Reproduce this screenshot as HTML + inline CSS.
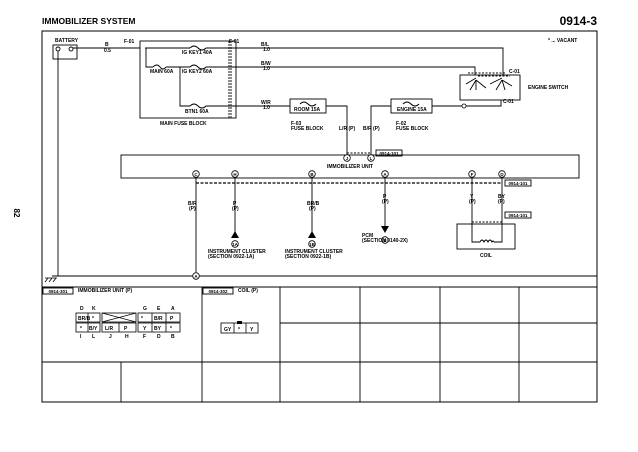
<!DOCTYPE html>
<html><head><meta charset="utf-8"><style>
html,body{margin:0;padding:0;background:#fff;width:638px;height:452px;overflow:hidden}
svg{display:block}
text{font-family:"Liberation Sans",sans-serif;font-weight:bold;fill:#000}
.s{font-size:5px}
.p{font-size:4.5px;text-anchor:middle}
</style></head><body>
<svg width="638" height="452" viewBox="0 0 638 452" xmlns="http://www.w3.org/2000/svg">
<text x="42" y="24" font-size="8.5">IMMOBILIZER SYSTEM</text>
<text x="597" y="25" font-size="12" text-anchor="end">0914-3</text>
<text x="14" y="213" font-size="8" font-weight="normal" transform="rotate(90 14 213)" text-anchor="middle">82</text>
<g fill="none" stroke="#000" stroke-width="0.9">
<rect x="42" y="31" width="555" height="371" stroke-width="1"/>
<rect x="53" y="45" width="24" height="14"/>
<circle cx="58" cy="49" r="2"/><circle cx="71" cy="49" r="2"/>
<line x1="58" y1="51" x2="58" y2="276"/>
<line x1="73" y1="48" x2="140" y2="48"/>
<rect x="140" y="41" width="96" height="77"/>
<line x1="229" y1="41" x2="229" y2="118" stroke-dasharray="2,1"/>
<line x1="231" y1="41" x2="231" y2="118" stroke-dasharray="2,1"/>
<polyline points="145,48 190,48"/><polyline points="206,48 503,48 503,75"/>
<polyline points="146,48 146,67 153,67"/><polyline points="166,67 190,67"/><polyline points="206,67 475,67 475,75"/>
<polyline points="180,67 180,106 190,106"/><polyline points="206,106 290,106"/>
<path d="M190,48 q4,-4 8,0 q4,4 8,0"/><path d="M153,67 q4,-4 7,0 q3,4 6,0"/><path d="M190,67 q4,-4 8,0 q4,4 8,0"/><path d="M190,106 q4,-4 8,0 q4,4 8,0"/>
<rect x="290" y="99" width="36" height="14"/>
<path d="M300,104 q4,-4 8,0 q4,4 8,0"/>
<polyline points="326,106 347,106 347,155"/>
<rect x="391" y="99" width="41" height="14"/>
<path d="M403,104 q4,-4 8,0 q4,4 8,0"/>
<polyline points="391,106 371,106 371,155"/>
<polyline points="432,106 501,106 501,100"/>
<rect x="460" y="75" width="60" height="25"/>
<line x1="468" y1="73" x2="505" y2="73" stroke-dasharray="2,1.5"/>
<line x1="478" y1="76" x2="510" y2="76" stroke-dasharray="2,1.5"/>
<path d="M466,84 l10,-6 M470,90 l6,-10 M476,90 l0,-10 M476,80 l10,8 M490,84 l12,-6 M496,90 l6,-10 M505,90 l-3,-10 M502,80 l10,6"/>
<rect x="121" y="155" width="458" height="23"/>
<line x1="347" y1="153" x2="371" y2="153" stroke-dasharray="2,1.5"/>
<line x1="196" y1="183" x2="502" y2="183" stroke-dasharray="3,1.5" stroke-width="1.3"/>
<line x1="196" y1="178" x2="196" y2="272"/>
<line x1="235" y1="178" x2="235" y2="232"/>
<line x1="312" y1="178" x2="312" y2="232"/>
<line x1="385" y1="178" x2="385" y2="226"/>
<polyline points="472,178 472,242 480,242"/><polyline points="494,242 502,242 502,178"/>
<path d="M480,242 q2,-4 4,0 q2,-4 4,0 q2,-4 4,0 q1,-2 2,0"/>
<line x1="472" y1="222" x2="502" y2="222" stroke-dasharray="2,1.5"/>
<rect x="457" y="224" width="58" height="25"/>
<line x1="52" y1="276" x2="597" y2="276"/>
<line x1="42" y1="287" x2="597" y2="287"/>
<line x1="42" y1="362" x2="597" y2="362"/>
<line x1="280" y1="323" x2="597" y2="323"/>
<line x1="121" y1="362" x2="121" y2="402"/>
<line x1="202" y1="287" x2="202" y2="402"/>
<line x1="280" y1="287" x2="280" y2="402"/>
<line x1="360" y1="287" x2="360" y2="402"/>
<line x1="440" y1="287" x2="440" y2="402"/>
<line x1="519" y1="287" x2="519" y2="402"/>
<rect x="43" y="288" width="30" height="6"/><rect x="203" y="288" width="30" height="6"/>
<rect x="376" y="150" width="26" height="6"/><rect x="505" y="180" width="26" height="6"/><rect x="505" y="212" width="26" height="6"/>
<g stroke-width="0.8">
<rect x="76" y="313" width="24" height="9"/><line x1="88" y1="313" x2="88" y2="322"/>
<rect x="76" y="323" width="24" height="9"/><line x1="88" y1="323" x2="88" y2="332"/>
<rect x="102" y="313" width="34" height="9"/><path d="M102,313 l34,9 M102,322 l34,-9"/>
<rect x="102" y="323" width="34" height="9"/><line x1="119" y1="323" x2="119" y2="332"/>
<rect x="138" y="313" width="42" height="9"/><line x1="152" y1="313" x2="152" y2="322"/><line x1="166" y1="313" x2="166" y2="322"/>
<rect x="138" y="323" width="42" height="9"/><line x1="152" y1="323" x2="152" y2="332"/><line x1="166" y1="323" x2="166" y2="332"/>
<rect x="221" y="323" width="37" height="10"/><line x1="234" y1="323" x2="234" y2="333"/><line x1="246" y1="323" x2="246" y2="333"/>
</g>
</g>
<g fill="#fff" stroke="#000" stroke-width="0.8">
<circle cx="347" cy="158" r="3.3"/><circle cx="371" cy="158" r="3.3"/>
<circle cx="196" cy="174" r="3.3"/><circle cx="235" cy="174" r="3.3"/><circle cx="312" cy="174" r="3.3"/><circle cx="385" cy="174" r="3.3"/><circle cx="472" cy="174" r="3.3"/><circle cx="502" cy="174" r="3.3"/>
<circle cx="196" cy="276" r="3.3"/><circle cx="235" cy="244" r="3.3"/><circle cx="312" cy="244" r="3.3"/><circle cx="385" cy="240" r="3.3"/>
<circle cx="464" cy="106" r="2"/>
</g>
<g class="p">
<text x="347" y="160">J</text><text x="371" y="160">L</text>
<text x="196" y="176">C</text><text x="235" y="176">H</text><text x="312" y="176">B</text><text x="385" y="176">A</text><text x="472" y="176">F</text><text x="502" y="176">D</text>
<text x="196" y="278">A</text><text x="235" y="246">1A</text><text x="312" y="246">1B</text><text x="385" y="242">B</text>
<text x="389" y="155">0914-101</text><text x="518" y="185">0914-101</text><text x="518" y="217">0914-101</text>
<text x="58" y="293">0914-301</text><text x="218" y="293">0914-302</text>
</g>
<g fill="#000">
<path d="M231,238 h8 l-4,-7z"/><path d="M308,238 h8 l-4,-7z"/><path d="M381,226 h8 l-4,7z"/>
<rect x="237" y="321" width="5" height="3"/>
</g>
<path d="M45,282 l3,-4 M49,282 l3,-4 M53,282 l3,-4 M45,278 h12" stroke="#000" stroke-width="0.8"/>
<g class="s">
<text x="55" y="42">BATTERY</text>
<text x="105" y="46">B</text><text x="104" y="52">0.5</text>
<text x="124" y="43">F-01</text><text x="229" y="43">F-01</text>
<text x="182" y="54">IG KEY1 40A</text><text x="150" y="73">MAIN 60A</text><text x="182" y="73">IG KEY2 60A</text><text x="185" y="113">BTN1 60A</text>
<text x="160" y="125">MAIN FUSE BLOCK</text>
<text x="261" y="46">B/L</text><text x="263" y="51">1.0</text>
<text x="261" y="65">B/W</text><text x="263" y="70">1.0</text>
<text x="261" y="104">W/R</text><text x="263" y="109">1.0</text>
<text x="294" y="111">ROOM 15A</text><text x="397" y="111">ENGINE 15A</text>
<text x="291" y="125">F-03</text><text x="291" y="130">FUSE BLOCK</text>
<text x="396" y="125">F-02</text><text x="396" y="130">FUSE BLOCK</text>
<text x="339" y="130">L/R (P)</text><text x="363" y="130">B/R (P)</text>
<text x="509" y="73">C-01</text><text x="503" y="103">C-01</text>
<text x="528" y="89">ENGINE SWITCH</text>
<text x="548" y="42">* ... VACANT</text>
<text x="327" y="168">IMMOBILIZER UNIT</text>
<text x="188" y="205">B/R</text><text x="189" y="210">(P)</text>
<text x="233" y="205">P</text><text x="232" y="210">(P)</text>
<text x="307" y="205">BR/B</text><text x="309" y="210">(P)</text>
<text x="383" y="198">P</text><text x="382" y="203">(P)</text>
<text x="470" y="198">Y</text><text x="469" y="203">(P)</text>
<text x="498" y="198">BY</text><text x="498" y="203">(P)</text>
<text x="208" y="253">INSTRUMENT CLUSTER</text><text x="208" y="258">(SECTION 0922-1A)</text>
<text x="285" y="253">INSTRUMENT CLUSTER</text><text x="285" y="258">(SECTION 0922-1B)</text>
<text x="362" y="237">PCM</text><text x="362" y="242">(SECTION 0140-2X)</text>
<text x="480" y="257">COIL</text>
<text x="78" y="292">IMMOBILIZER UNIT (P)</text><text x="238" y="292">COIL (P)</text>
<text x="78" y="320">BR/B</text><text x="92" y="320">*</text><text x="141" y="320">*</text><text x="154" y="320">B/R</text><text x="170" y="320">P</text>
<text x="80" y="330">*</text><text x="89" y="330">B/Y</text><text x="105" y="330">L/R</text><text x="124" y="330">P</text><text x="143" y="330">Y</text><text x="154" y="330">BY</text><text x="170" y="330">*</text>
<text x="224" y="331">GY</text><text x="238" y="331">*</text><text x="250" y="331">Y</text>
<text x="80" y="310">D</text><text x="92" y="310">K</text><text x="143" y="310">G</text><text x="157" y="310">E</text><text x="171" y="310">A</text>
<text x="80" y="338">I</text><text x="92" y="338">L</text><text x="109" y="338">J</text><text x="125" y="338">H</text><text x="143" y="338">F</text><text x="157" y="338">D</text><text x="171" y="338">B</text>
</g>
</svg>
</body></html>
